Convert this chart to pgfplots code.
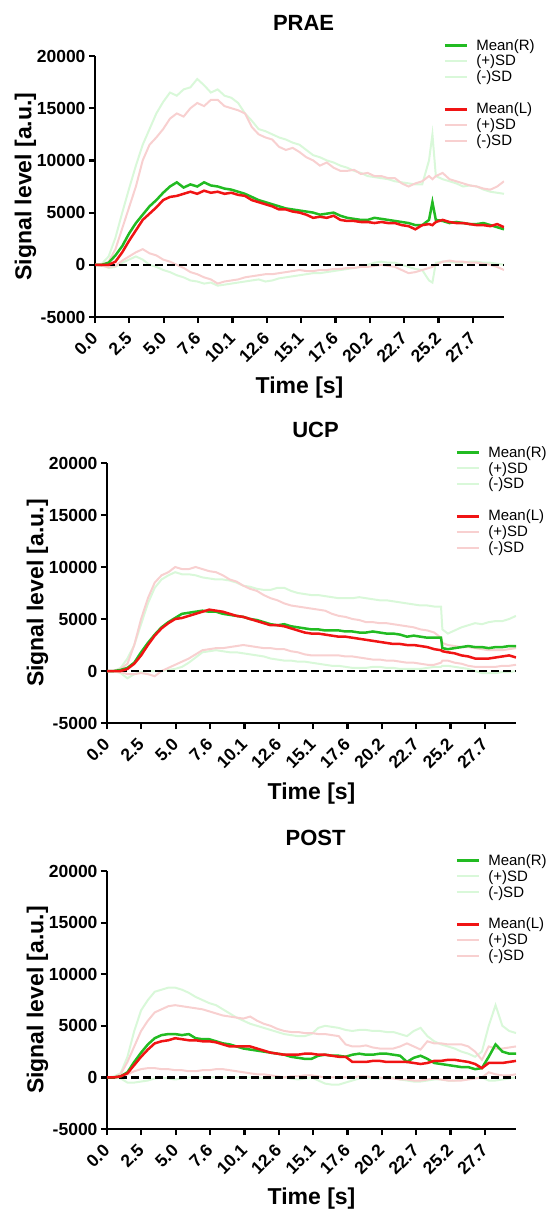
\documentclass[border=0pt]{standalone}
\usepackage{fontspec}
\setmainfont{Liberation Sans}
\usepackage{pgfplots}
\usepackage{pgfplotstable}
\pgfplotsset{compat=1.18}

\definecolor{meanR}{HTML}{22BB22}
\definecolor{meanL}{HTML}{F01414}
\definecolor{sdR}{HTML}{D9F8D9}
\definecolor{sdL}{HTML}{F8D0D0}

% columns: time, mean/+SD/-SD right, mean/+SD/-SD left
\pgfplotstableread{
t    mR    pR     nR    mL    pL     nL
0    0     0      0     0     0      0
0.5  0     100    0     0     0      -100
1.0  200   800    -300  0     300    -200
1.5  900   2600   -200  300   1500   -100
2.0  1800  5000   200   1200  3500   400
2.5  3000  7300   500   2300  5500   800
3.0  4000  9500   800   3300  7500   1200
3.5  4800  11500  500   4300  10000  1500
4.0  5600  13000  0     4900  11500  1100
4.5  6200  14500  -200  5500  12200  900
5.0  6900  15600  -500  6200  13000  500
5.5  7500  16500  -700  6500  14000  300
6.0  7900  16200  -1000 6600  14500  0
6.5  7400  16800  -1200 6800  14200  -300
7.0  7700  17000  -1500 7000  15000  -700
7.5  7500  17800  -1600 6800  15500  -900
8.0  7900  17200  -1800 7100  15200  -1200
8.5  7600  16500  -1700 6900  15800  -1400
9.0  7500  16800  -2000 7000  15800  -1800
9.5  7300  16200  -1900 6800  15200  -1600
10.0 7200  16000  -1800 6900  15000  -1500
10.5 7000  15500  -1700 6700  14800  -1400
11.0 6800  14500  -1600 6600  14500  -1200
11.5 6500  13800  -1500 6200  13200  -1100
12.0 6200  13000  -1400 6000  12500  -1000
12.5 6000  12800  -1600 5800  12200  -900
13.0 5800  12500  -1500 5600  12000  -900
13.5 5600  12200  -1300 5300  11300  -800
14.0 5400  12000  -1200 5300  11000  -700
14.5 5300  11700  -1100 5100  11200  -600
15.0 5200  11500  -1000 5000  10800  -500
15.5 5100  11000  -900  4800  10300  -600
16.0 5000  10500  -800  4500  10000  -600
16.5 4800  10300  -800  4600  9500   -500
17.0 4900  10000  -700  4500  9800   -500
17.5 5000  9800   -600  4700  9300   -400
18.0 4700  9500   -500  4300  9000   -400
18.5 4500  9300   -400  4200  9000   -300
19.0 4400  9000   -300  4200  9100   -300
19.5 4300  8800   -200  4100  8700   -200
20.0 4300  8500   0     4100  8800   -200
20.5 4500  8400   200   4000  8500   -100
21.0 4400  8300   300   4100  8500   0
21.5 4300  8200   200   4000  8300   -100
22.0 4200  8000   200   4000  8300   -200
22.5 4100  7900   0     3800  7800   -500
23.0 4000  7800   -200  3700  7500   -800
23.5 3800  7700   -400  3400  7800   -700
24.0 3800  7700   -500  3800  8000   -500
24.5 4300  10000  -1500 3900  8500   -300
24.75 6000 12500  -1700 3800  8200   -200
25.0 4300  8500   200   4100  8500   0
25.5 4200  8200   300   4300  8800   300
26.0 4000  8000   300   4100  8200   400
26.5 4100  7800   200   4000  8000   300
27.0 4000  7500   200   4000  7800   300
27.5 3900  7600   300   3900  7600   200
28.0 3900  7500   300   3800  7500   200
28.5 4000  7200   200   3800  7300   100
29.0 3800  7000   200   3700  7200   0
29.5 3600  6900   100   3900  7500   -200
30.0 3400  6800   0     3600  8000   -500
}\prae

\pgfplotstableread{
t    mR    pR     nR    mL    pL     nL
0    0     0      0     0     0      0
0.5  0     0      0     0     0      0
1.0  100   300    -200  0     200    -100
1.5  300   1200   -700  200   700    -300
2.0  800   2500   -300  700   2500   -300
2.5  1800  4500   -100  1500  5000   -200
3.0  2700  6500   0     2500  7000   -300
3.5  3500  8000   0     3400  8500   -500
4.0  4200  8800   0     4100  9200   0
4.5  4700  9200   100   4600  9500   300
5.0  5100  9500   200   5000  10000  600
5.5  5500  9300   400   5100  9800   900
6.0  5600  9300   800   5300  9800   1200
6.5  5700  9200   1300  5500  10000  1600
7.0  5800  9000   1800  5700  9800   2000
7.5  5700  8900   1900  5900  9600   2100
8.0  5700  8800   2000  5800  9500   2200
8.5  5500  8800   1900  5700  9200   2200
9.0  5400  8700   1800  5500  8800   2300
9.5  5300  8500   1800  5300  8600   2400
10.0 5200  8200   1700  5200  8200   2500
10.5 5000  8100   1600  5000  7900   2400
11.0 4900  7900   1500  4800  7700   2300
11.5 4700  7800   1400  4600  7300   2200
12.0 4500  7800   1200  4400  7000   2200
12.5 4400  8000   1100  4400  6800   2100
13.0 4500  8000   1000  4300  6500   2100
13.5 4300  7700   1000  4100  6300   1900
14.0 4200  7500   900   3900  6200   1800
14.5 4100  7400   900   3700  6100   1600
15.0 4000  7300   800   3600  6000   1500
15.5 4000  7300   700   3600  5900   1500
16.0 3900  7200   600   3500  5800   1500
16.5 3900  7100   500   3400  5500   1500
17.0 3900  7000   500   3300  5300   1500
17.5 3800  7000   400   3300  5200   1400
18.0 3800  7000   300   3200  5000   1400
18.5 3700  7100   300   3100  4900   1300
19.0 3700  7000   300   3000  4700   1200
19.5 3800  6900   400   2900  4700   1100
20.0 3700  6800   400   2800  4600   1100
20.5 3600  6800   300   2700  4600   1000
21.0 3600  6700   300   2600  4500   1000
21.5 3500  6600   200   2600  4400   900
22.0 3300  6500   200   2500  4300   800
22.5 3400  6400   200   2500  4200   800
23.0 3300  6300   200   2400  4000   700
23.5 3200  6300   300   2300  3900   600
24.0 3200  6200   400   2100  3700   600
24.5 3200  6200   400   2000  3200   800
24.6 2200  4000   500   1900  2700   1000
25.0 2100  3600   500   1800  2500   1000
25.5 2200  3900   400   1700  2400   800
26.0 2300  4200   300   1500  2300   700
26.5 2400  4400   200   1400  2300   500
27.0 2300  4600   0     1200  2200   400
27.5 2300  4500   -200  1200  2100   400
28.0 2200  4700   -200  1200  2000   400
28.5 2300  4800   -200  1300  2000   400
29.0 2300  4800   -100  1400  2000   500
29.5 2400  5000   -100  1500  2100   500
30.0 2400  5300   0     1300  2200   600
}\ucp

\pgfplotstableread{
t    mR    pR    nR    mL    pL    nL
0    0     0     0     0     0     0
0.5  0     100   0     0     0     0
1.0  100   400   -100  100   300   0
1.5  500   2000  -500  400   1500  300
2.0  1500  4500  -500  1200  3000  600
2.5  2400  6500  -400  2000  4500  800
3.0  3200  7500  -300  2700  5500  900
3.5  3800  8300  -100  3300  6300  900
4.0  4100  8500  0     3500  6600  800
4.5  4200  8700  -100  3600  6900  800
5.0  4200  8700  -200  3800  7000  700
5.5  4100  8500  -100  3700  6900  700
6.0  4200  8200  0     3600  6800  600
6.5  3800  7800  0     3600  6700  600
7.0  3700  7500  0     3500  6600  700
7.5  3700  7200  0     3500  6400  700
8.0  3500  7000  0     3400  6200  800
8.5  3300  6600  0     3200  6000  800
9.0  3200  6200  0     3000  5900  700
9.5  3000  5800  0     3000  5800  600
10.0 2800  5500  0     3000  5700  500
10.5 2700  5200  0     3000  5900  400
11.0 2600  5000  0     2800  5500  300
11.5 2500  4800  -100  2600  5200  300
12.0 2400  4600  -100  2400  5000  200
12.5 2300  4400  0     2300  4700  100
13.0 2200  4200  0     2200  4500  0
13.5 2000  4100  -100  2200  4400  100
14.0 1900  4000  -200  2200  4400  100
14.5 1800  4000  -100  2300  4300  200
15.0 1800  4200  0     2300  4300  200
15.5 2100  4800  -300  2200  4200  100
16.0 2200  5000  -600  2200  4200  0
16.5 2100  4900  -700  2100  4100  0
17.0 2100  4800  -700  2000  4000  0
17.5 2000  4600  -500  2000  3200  0
18.0 2200  4500  -300  1500  3000  0
18.5 2300  4600  -100  1500  3000  100
19.0 2200  4600  0     1500  3100  100
19.5 2200  4500  -100  1600  2900  0
20.0 2300  4500  -100  1600  2800  0
20.5 2300  4400  0     1500  2800  -100
21.0 2200  4400  0     1500  2800  -100
21.5 2100  4200  -200  1500  3000  -200
22.0 1500  4000  -300  1500  3300  -200
22.5 1900  4500  -400  1400  3000  -300
23.0 2100  4800  -400  1300  2700  -300
23.5 1800  4000  -300  1400  3500  -200
24.0 1400  3500  -200  1600  3300  -100
24.5 1300  3200  -200  1600  3300  -200
25.0 1200  3000  -300  1700  3200  -300
25.5 1100  2800  -300  1700  3200  -300
26.0 1000  2500  -200  1600  3200  -300
26.5 1000  2300  -100  1500  3000  -200
27.0 800   2000  0     1300  2500  -100
27.5 900   2500  0     900   1700  0
28.0 2000  5000  -300  1400  3000  500
28.5 3200  7000  -300  1400  2800  300
29.0 2500  5000  -200  1400  2800  200
29.5 2300  4500  -100  1500  2900  200
30.0 2300  4300  0     1600  3000  300
}\post

\pgfplotsset{
  panel/.style={
    scale only axis, width=409bp,
    xmin=0, xmax=30, ymin=-5000, ymax=20000,
    axis lines*=left,
    axis line style={line width=2.6bp},
    every tick/.style={black, line width=2.2bp},
    tick align=outside, major tick length=6bp,
    scaled ticks=false,
    xtick={0,2.52,5.04,7.56,10.08,12.6,15.12,17.64,20.16,22.68,25.2,27.72},
    xticklabels={0.0,2.5,5.0,7.6,10.1,12.6,15.1,17.6,20.2,22.7,25.2,27.7},
    ytick={-5000,0,5000,10000,15000,20000},
    yticklabels={-5000,0,5000,10000,15000,20000},
    tick label style={font=\bfseries\fontsize{17.5bp}{20bp}\selectfont},
    xticklabel style={yshift=-10bp, xshift=2bp, rotate=45, anchor=east},
    xlabel={Time [s]}, ylabel={Signal level [a.u.]},
    label style={font=\bfseries\fontsize{23bp}{27bp}\selectfont},
    xlabel style={at={(axis description cs:0.5,-0.27)}, anchor=center},
    ylabel style={at={(axis description cs:-0.17,0.5)}, anchor=center},
    title style={font=\bfseries\fontsize{22bp}{26bp}\selectfont,
      at={(axis description cs:0.51,1)}, anchor=south, yshift=16bp},
    legend style={draw=none, fill=none, inner sep=0pt, anchor=north west,
      at={(axis description cs:0.851,1.065)}, row sep=3.5bp, column sep=8bp,
      nodes={inner sep=0pt}, font=\fontsize{15bp}{18bp}\selectfont},
    legend cell align=left,
    legend image code/.code={\draw[##1] (0bp,0bp) -- (22bp,0bp);},
  },
  sdRline/.style={sdR, line width=2bp, forget plot},
  sdLline/.style={sdL, line width=2bp, forget plot},
  meanRline/.style={meanR, line width=2.5bp, forget plot},
  meanLline/.style={meanL, line width=2.5bp, forget plot},
  zeroline/.style={black, line width=2.6bp, dash pattern=on 7.5bp off 4.5bp, forget plot},
}

\newcommand{\panellegend}{%
  \addlegendimage{meanR, line width=3bp}\addlegendentry{Mean(R)}
  \addlegendimage{sdR, line width=2bp}\addlegendentry{(+)SD}
  \addlegendimage{sdR, line width=2bp}\addlegendentry{(-)SD}
  \addlegendimage{empty legend}\addlegendentry{\rule[-11bp]{0pt}{22bp}}
  \addlegendimage{meanL, line width=3bp}\addlegendentry{Mean(L)}
  \addlegendimage{sdL, line width=2bp}\addlegendentry{(+)SD}
  \addlegendimage{sdL, line width=2bp}\addlegendentry{(-)SD}
}

\newcommand{\panelcurves}[1]{%
  \addplot[sdRline] table[x=t, y=pR] {#1};
  \addplot[sdRline] table[x=t, y=nR] {#1};
  \addplot[sdLline] table[x=t, y=pL] {#1};
  \addplot[sdLline] table[x=t, y=nL] {#1};
  \addplot[zeroline] coordinates {(0,0) (30,0)};
  \addplot[meanRline] table[x=t, y=mR] {#1};
  \addplot[meanLline] table[x=t, y=mL] {#1};
}

\begin{document}
\begin{tikzpicture}
\useasboundingbox (0,0) rectangle (550bp,-1213bp);

\begin{axis}[panel, height=261bp, at={(95bp,-317bp)}, anchor=south west, title={PRAE}]
  \panellegend
  \panelcurves{\prae}
\end{axis}

\begin{axis}[panel, height=260bp, at={(107bp,-723bp)}, anchor=south west, title={UCP}]
  \panellegend
  \panelcurves{\ucp}
\end{axis}

\begin{axis}[panel, height=258bp, at={(107bp,-1129bp)}, anchor=south west, title={POST}]
  \panellegend
  \panelcurves{\post}
\end{axis}
\end{tikzpicture}
\end{document}
